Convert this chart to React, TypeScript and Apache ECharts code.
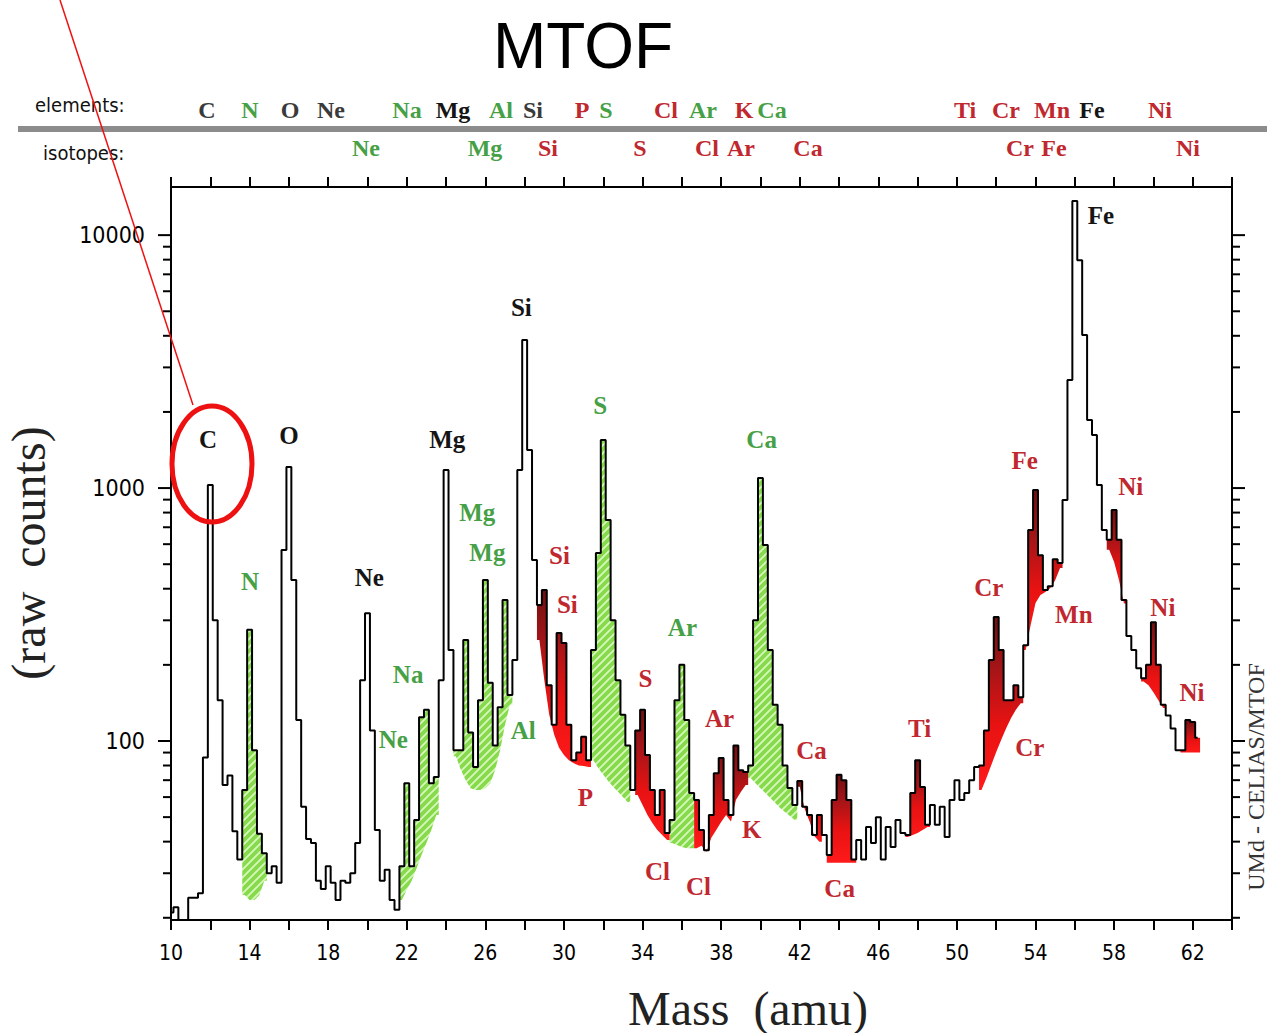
import { useEffect, useRef } from "react";
import * as echarts from "echarts";

// ---------------- data ----------------
const MASS_START = 10;
const BIN_WIDTH = 0.25;

// raw counts per 0.25 amu bin, first bin centred on mass 10.00 (4 bins per row = 1 amu)
const rawCounts: number[] = [
  21, 22, 19, 19, // 10
  24, 24, 25, 86, // 11
  1028, 300, 145, 67, // 12
  73, 44, 34, 64, // 13
  275, 92, 43, 36, // 14
  30, 32, 27.5, 569, // 15
  1211, 433, 121, 55, // 16
  41, 39.5, 28, 26, // 17
  32, 27.5, 23.5, 28, // 18
  27.5, 30, 39.5, 174, // 19
  320, 110, 44.5, 28, // 20
  31, 23.5, 21.5, 32, // 21
  68, 32, 48.7, 124, // 22
  133, 68, 72, 174, // 23
  1178, 229, 92, 92, // 24
  251, 108, 79, 145, // 25
  433, 170, 96, 136, // 26
  361, 152, 209, 1178, // 27
  3846, 1413, 519, 345, // 28
  395, 166, 116, 267, // 29
  244, 116, 84, 90, // 30
  104, 84, 229, 554, // 31
  1549, 748, 300, 174, // 32
  127, 96, 64, 110, // 33
  133, 88, 64, 51, // 34
  64, 43.3, 48.7, 145, // 35
  200, 121, 62.3, 58.5, // 36
  44.5, 37, 51, 74.6, // 37
  85.7, 58.5, 51, 96, // 38
  76.7, 75.4, 80, 300, // 39
  1096, 596, 229, 139, // 40
  116, 80, 65.2, 55.8, // 41
  69.5, 55, 51, 42.5, // 42
  51, 42.5, 35.4, 58.5, // 43
  73.5, 70, 58.5, 34, // 44
  40.6, 34, 45.7, 39.5, // 45
  50, 34, 45.7, 38.1, // 46
  48.7, 43.3, 42.5, 62.3, // 47
  84, 65.8, 46.6, 55.8, // 48
  46.6, 55, 41.7, 58.5, // 49
  70, 58.5, 62.3, 70, // 50
  79, 80, 110, 209, // 51
  309, 229, 145, 145, // 52
  166, 149, 239, 683, // 53
  982, 543, 395, 409, // 54
  523, 506, 897, 2673, // 55
  13650, 7960, 4027, 1859, // 56
  1622, 1028, 683, 624, // 57
  819, 624, 361, 260, // 58
  229, 194, 177, 200, // 59
  295, 200, 139, 126, // 60
  112, 92, 92, 121, // 61
  119, 103, // 62
];

const xTickLabels = [10, 14, 18, 22, 26, 30, 34, 38, 42, 46, 50, 54, 58, 62];
const yTickLabels = [100, 1000, 10000];
const yMinorTicks = [20, 30, 40, 50, 60, 70, 80, 90, 200, 300, 400, 500, 600, 700, 800, 900,
  2000, 3000, 4000, 5000, 6000, 7000, 8000, 9000];

// background (lower boundary) counts for shaded regions, one value per bin from "from"
const greenRegions = [
  { from: 13.75, base: [24.6, 23.5, 23.5, 24.6, 28] },
  { from: 21.75, base: [23.5, 25.8, 28, 31.4, 35.4, 39.5, 44.5, 51] },
  { from: 24.5, base: [87, 77, 70, 65, 64, 64, 65, 68, 77, 92, 116, 139] },
  { from: 31.5, base: [84, 78, 73.5, 69.5, 66, 63, 60, 57.3] },
  { from: 35.5, base: [39.5, 38.8, 38.1, 37.7, 37.7] },
  { from: 39.5, base: [71.4, 68, 65, 62.3, 59.5, 57, 54.3, 52.4, 50.5, 48.7] },
];
const redRegions = [
  { from: 28.75, base: [251, 174, 127, 106, 94, 88, 84, 81.6, 80, 79.6, 79] },
  { from: 33.75, base: [61.2, 55.8, 51, 47.4, 44.5, 42.5, 40.6] },
  { from: 36.75, base: [37.7, 38.5, 36.4, 41.4, 44.5, 47.8, 51, 48, 58.5, 62.8, 67] },
  { from: 42, base: [66, 54, 48, 42, 40] },
  { from: 43.5, base: [33, 33, 33, 33, 33, 33] },
  { from: 47.5, base: [41.7, 42.5, 43.3, 44.5, 45.7] },
  { from: 51.25, base: [64, 71.4, 80.4, 90.5, 101, 112, 123, 133, 141] },
  { from: 53.5, base: [229, 287, 351, 378, 388, 403, 432, 483] },
  { from: 57.75, base: [570, 510, 432, 350] },
  { from: 59.5, base: [172, 166, 156, 145, 135] },
  { from: 61.5, base: [90, 90, 90, 90] },
];

// peak annotations: [mass, counts, text]
const blackPeakLabels: [number, number, string][] = [
  [11.88, 1549, "C"], [16.01, 1607, "O"], [24.06, 1549, "Mg"], [20.09, 445, "Ne"],
  [27.83, 5152, "Si"], [57.33, 12000, "Fe"],
];
const greenPeakLabels: [number, number, string][] = [
  [14.02, 429, "N"], [22.07, 184, "Na"], [21.31, 101, "Ne"], [25.59, 804, "Mg"],
  [26.1, 558, "Mg"], [27.93, 110, "Al"], [31.85, 2128, "S"], [36.03, 282, "Ar"],
  [40.06, 1549, "Ca"],
];
const redPeakLabels: [number, number, string][] = [
  [29.77, 543, "Si"], [30.17, 345, "Si"], [31.09, 60, "P"], [34.15, 177, "S"],
  [34.76, 30.6, "Cl"], [36.85, 26.5, "Cl"], [37.92, 123, "Ar"], [39.55, 44.5, "K"],
  [42.6, 92, "Ca"], [44.03, 26.2, "Ca"], [48.1, 112, "Ti"], [51.62, 406, "Cr"],
  [53.71, 94, "Cr"], [53.45, 1291, "Fe"], [55.95, 315, "Mn"], [58.85, 1018, "Ni"],
  [60.48, 336, "Ni"], [61.96, 156, "Ni"],
];

// header rows: [text, colour key]
const elementRow: [string, string][] = [
  ["C", "d"], ["N", "g"], ["O", "d"], ["Ne", "d"], ["Na", "g"], ["Mg", "k"], ["Al", "g"],
  ["Si", "d"], ["P", "r"], ["S", "g"], ["Cl", "r"], ["Ar", "g"], ["K", "r"], ["Ca", "g"],
  ["Ti", "r"], ["Cr", "r"], ["Mn", "r"], ["Fe", "k"], ["Ni", "r"],
];
const elementRowX = [207, 250, 290, 331, 407, 453, 501, 533, 582, 606, 666, 703, 744, 772, 965, 1006, 1052, 1092, 1160];
const isotopeRow: [string, string][] = [
  ["Ne", "g"], ["Mg", "g"], ["Si", "r"], ["S", "r"], ["Cl", "r"], ["Ar", "r"], ["Ca", "r"],
  ["Cr", "r"], ["Fe", "r"], ["Ni", "r"],
];
const isotopeRowX = [366, 485, 548, 640, 707, 741, 808, 1020, 1054, 1188];

// ---------------- styling ----------------
const COLORS: Record<string, string> = { d: "#3a3a3a", k: "#151515", g: "#46a046", r: "#c0282f" };
const SERIF = "'Liberation Serif', 'DejaVu Serif', serif";
const NARROW = "'DejaVu Sans Condensed', 'Liberation Sans Narrow', 'DejaVu Sans', sans-serif";

export default function App() {
  const ref = useRef<HTMLDivElement>(null);

  useEffect(() => {
    if (!ref.current) return;
    const chart = echarts.init(ref.current, undefined, { renderer: "svg" });

    // hatch pattern for the green regions
    const cv = document.createElement("canvas");
    cv.width = 8;
    cv.height = 8;
    const ctx = cv.getContext("2d")!;
    ctx.fillStyle = "#86da4c";
    ctx.fillRect(0, 0, 8, 8);
    ctx.strokeStyle = "#d8f7bd";
    ctx.lineWidth = 1.8;
    ctx.beginPath();
    ctx.moveTo(-2, 10);
    ctx.lineTo(10, -2);
    ctx.moveTo(-6, 6);
    ctx.lineTo(6, -6);
    ctx.moveTo(2, 14);
    ctx.lineTo(14, 2);
    ctx.stroke();
    const greenFill: any = { image: cv, repeat: "repeat" };

    const spectrum = rawCounts.map((c, i) => [MASS_START + i * BIN_WIDTH, c]);

    const makeFill = (regions: { from: number; base: number[] }[], kind: "g" | "r") =>
      (params: any, api: any) => {
        const r = regions[params.dataIndex];
        const n = r.base.length;
        const i0 = Math.round((r.from - MASS_START) / BIN_WIDTH);
        const pts: number[][] = [];
        for (let k = 0; k < n; k++) {
          const m = r.from + k * BIN_WIDTH;
          const c = rawCounts[i0 + k];
          pts.push(api.coord([m - BIN_WIDTH / 2, c]));
          pts.push(api.coord([m + BIN_WIDTH / 2, c]));
        }
        const last = r.from + (n - 1) * BIN_WIDTH;
        pts.push(api.coord([last + BIN_WIDTH / 2, r.base[n - 1]]));
        for (let k = n - 1; k >= 0; k--) pts.push(api.coord([r.from + k * BIN_WIDTH, r.base[k]]));
        pts.push(api.coord([r.from - BIN_WIDTH / 2, r.base[0]]));
        const fill =
          kind === "g"
            ? greenFill
            : new echarts.graphic.LinearGradient(0, 0, 0, 1, [
                { offset: 0, color: "#701010" },
                { offset: 0.3, color: "#a51518" },
                { offset: 0.62, color: "#e81212" },
                { offset: 1, color: "#ff1a1a" },
              ]);
        return { type: "polygon", shape: { points: pts }, style: { fill, stroke: null } };
      };

    const tickData: number[][] = [];
    yMinorTicks.forEach((v) => tickData.push([10, v, 0], [64, v, 0]));
    yTickLabels.forEach((v) => tickData.push([10, v, 1], [64, v, 1]));

    const allLabels = [
      ...blackPeakLabels.map((l) => ({ l, color: COLORS.k })),
      ...greenPeakLabels.map((l) => ({ l, color: COLORS.g })),
      ...redPeakLabels.map((l) => ({ l, color: COLORS.r })),
    ];

    const headerTexts: any[] = [];
    elementRow.forEach(([t, c], i) =>
      headerTexts.push({
        type: "text", x: elementRowX[i], y: 110, z: 20,
        style: { text: t, fill: COLORS[c], font: `bold 24px ${SERIF}`, align: "center", verticalAlign: "middle" },
      })
    );
    isotopeRow.forEach(([t, c], i) =>
      headerTexts.push({
        type: "text", x: isotopeRowX[i], y: 148, z: 20,
        style: { text: t, fill: COLORS[c], font: `bold 24px ${SERIF}`, align: "center", verticalAlign: "middle" },
      })
    );

    const xAxisCommon = {
      type: "value",
      min: 10,
      max: 64,
      interval: 2,
      splitLine: { show: false },
      axisLine: { show: true, lineStyle: { color: "#000", width: 2 } },
      axisTick: { show: true, inside: false, length: 10, lineStyle: { color: "#000", width: 2 } },
    };

    chart.setOption({
      animation: false,
      grid: { left: 171, top: 187, width: 1061, height: 733, show: true, borderColor: "#000", borderWidth: 2, backgroundColor: "#fff" },
      xAxis: [
        {
          ...xAxisCommon,
          position: "bottom",
          axisLabel: {
            show: true,
            margin: 22,
            color: "#000",
            fontFamily: NARROW,
            fontSize: 21,
            formatter: (v: number) => (xTickLabels.some((t) => Math.abs(t - v) < 1e-6) ? String(Math.round(v)) : ""),
          },
        },
        { ...xAxisCommon, position: "top", axisLabel: { show: false } },
      ],
      yAxis: {
        type: "log",
        logBase: 10,
        min: 19.6,
        max: 15500,
        splitLine: { show: false },
        axisLine: { show: true, lineStyle: { color: "#000", width: 2 } },
        axisTick: { show: false },
        axisLabel: {
          margin: 26,
          color: "#000",
          fontFamily: NARROW,
          fontSize: 23,
          formatter: (v: number) => {
            const hit = yTickLabels.find((t) => Math.abs(t - v) / t < 1e-3);
            return hit ? String(hit) : "";
          },
        },
      },
      series: [
        {
          type: "custom",
          name: "green",
          xAxisIndex: 0,
          z: 2,
          renderItem: makeFill(greenRegions, "g"),
          data: greenRegions.map((r) => [r.from, r.base[0]]),
        },
        {
          type: "custom",
          name: "red",
          xAxisIndex: 0,
          z: 2,
          renderItem: makeFill(redRegions, "r"),
          data: redRegions.map((r) => [r.from, r.base[0]]),
        },
        {
          type: "line",
          name: "raw counts",
          xAxisIndex: 0,
          step: "middle",
          showSymbol: false,
          symbol: "none",
          z: 5,
          lineStyle: { color: "#000", width: 2 },
          data: spectrum,
        },
        {
          type: "custom",
          name: "ticks",
          xAxisIndex: 0,
          z: 6,
          clip: false,
          encode: { x: 0, y: 1 },
          renderItem: (_p: any, api: any) => {
            const x = api.value(0);
            const p = api.coord([x, api.value(1)]);
            const len = api.value(2) ? 13 : 8;
            const dir = x < 30 ? -1 : 1;
            return {
              type: "line",
              shape: { x1: p[0], y1: p[1], x2: p[0] + dir * len, y2: p[1] },
              style: { stroke: "#000", lineWidth: 2 },
            };
          },
          data: tickData,
        },
        {
          type: "custom",
          name: "labels",
          xAxisIndex: 0,
          z: 7,
          clip: false,
          renderItem: (params: any, api: any) => {
            const item = allLabels[params.dataIndex];
            const p = api.coord([item.l[0], item.l[1]]);
            return {
              type: "text",
              x: p[0],
              y: p[1],
              style: {
                text: item.l[2],
                fill: item.color,
                font: `bold 25px ${SERIF}`,
                align: "center",
                verticalAlign: "middle",
              },
            };
          },
          data: allLabels.map((a) => [a.l[0], a.l[1]]),
        },
      ],
      graphic: [
        {
          type: "text", x: 583, y: 46, z: 20,
          style: { text: "MTOF", fill: "#000", font: "64px 'Liberation Sans', Arial, sans-serif", align: "center", verticalAlign: "middle" },
        },
        {
          type: "text", x: 35, y: 105, z: 20,
          style: { text: "elements:", fill: "#111", font: `20px ${NARROW}`, align: "left", verticalAlign: "middle" },
        },
        {
          type: "text", x: 43, y: 153, z: 20,
          style: { text: "isotopes:", fill: "#111", font: `20px ${NARROW}`, align: "left", verticalAlign: "middle" },
        },
        { type: "rect", z: 15, shape: { x: 18, y: 126, width: 1249, height: 6 }, style: { fill: "#8c8c8c" } },
        ...headerTexts,
        {
          type: "text", x: 28, y: 553, rotation: Math.PI / 2, z: 20,
          style: { text: "(raw  counts)", fill: "#222", font: `48px ${SERIF}`, align: "center", verticalAlign: "middle" },
        },
        {
          type: "text", x: 748, y: 1008, z: 20,
          style: { text: "Mass  (amu)", fill: "#222", font: `48px ${SERIF}`, align: "center", verticalAlign: "middle" },
        },
        {
          type: "text", x: 1256, y: 777, rotation: Math.PI / 2, z: 20,
          style: { text: "UMd - CELIAS/MTOF", fill: "#333", font: `24px ${SERIF}`, align: "center", verticalAlign: "middle" },
        },
        {
          type: "line", z: 30,
          shape: { x1: 60, y1: 0, x2: 193, y2: 405 },
          style: { stroke: "#ee1111", lineWidth: 1.5 },
        },
        {
          type: "ellipse", z: 30,
          shape: { cx: 212, cy: 464, rx: 40, ry: 58 },
          style: { fill: "rgba(0,0,0,0)", stroke: "#ee1111", lineWidth: 5 },
        },
      ],
    });

    return () => chart.dispose();
  }, []);

  return (
    <div
      ref={ref}
      style={{ position: "fixed", left: 0, top: 0, width: 1272, height: 1033, background: "#fff" }}
    />
  );
}
